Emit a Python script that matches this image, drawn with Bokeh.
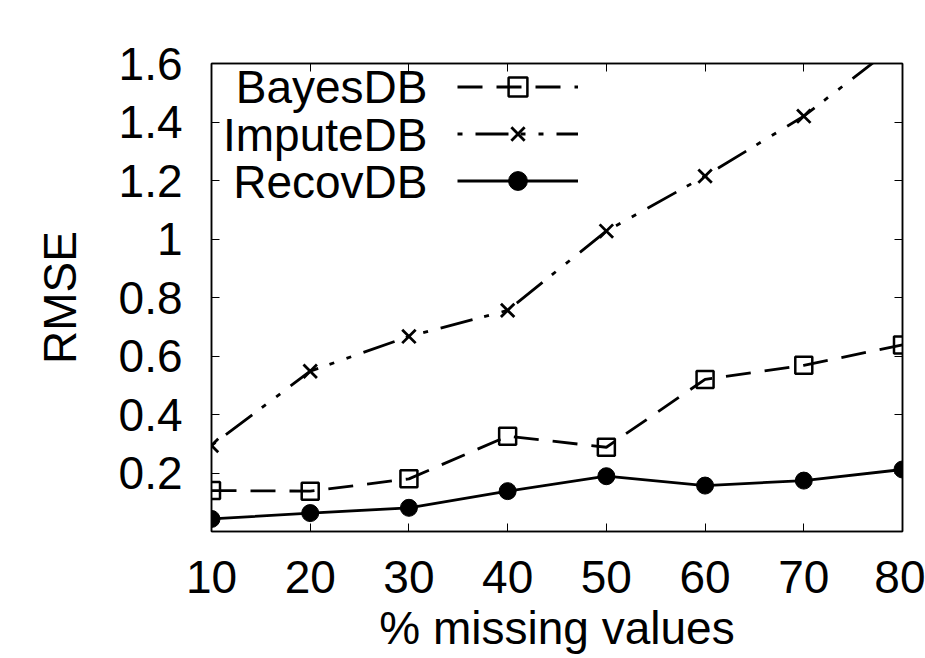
from bokeh.plotting import figure
from bokeh.models import (LinearAxis, FixedTicker, Label, Legend, LegendItem,
                          Range1d, CustomLabelingPolicy)
from bokeh.embed import file_html
from bokeh.resources import INLINE

# ---- data ----
x_vals = [10, 20, 30, 40, 50, 60, 70, 80]
bayesdb = [0.140, 0.138, 0.180, 0.326, 0.288, 0.520, 0.568, 0.638]
imputedb = [0.294, 0.548, 0.667, 0.756, 1.027, 1.215, 1.420, 1.680]
recovdb = [0.043, 0.063, 0.081, 0.138, 0.189, 0.157, 0.174, 0.212]
series_names = ["BayesDB", "ImputeDB", "RecovDB"]
x_ticks = [10, 20, 30, 40, 50, 60, 70, 80]
x_tick_labels = ["10", "20", "30", "40", "50", "60", "70", "80"]
y_ticks = [0.2, 0.4, 0.6, 0.8, 1.0, 1.2, 1.4, 1.6]
y_tick_labels = ["0.2", "0.4", "0.6", "0.8", "1", "1.2", "1.4", "1.6"]
x_title = "% missing values"
y_title = "RMSE"

FONT = "Liberation Sans"
FS = "46px"
INK = "#000000"

p = figure(width=925, height=658, output_backend="svg", toolbar_location=None,
           x_range=Range1d(10, 80), y_range=Range1d(0, 1.6),
           min_border_left=211, min_border_right=23, min_border_top=63,
           min_border_bottom=127, background_fill_color="white",
           border_fill_color="white")
p.xgrid.visible = False
p.ygrid.visible = False
p.outline_line_color = INK
p.outline_line_width = 1.5

xt = FixedTicker(ticks=x_ticks)
yt = FixedTicker(ticks=y_ticks)

for ax in p.xaxis:
    ax.ticker = xt
    ax.major_label_overrides = dict(zip(x_ticks, x_tick_labels))
    ax.major_label_standoff = 29
    ax.axis_label = x_title
    ax.axis_label_standoff = 6
for ax in p.yaxis:
    ax.ticker = yt
    ax.major_label_overrides = dict(zip(y_ticks, y_tick_labels))
    ax.major_label_standoff = 29
    ax.axis_label = y_title
    ax.axis_label_standoff = 30

for ax in list(p.xaxis) + list(p.yaxis):
    ax.axis_label_text_font = FONT
    ax.axis_label_text_font_size = FS
    ax.axis_label_text_font_style = "normal"
    ax.axis_label_text_color = INK
    ax.major_label_text_font = FONT
    ax.major_label_text_font_size = FS
    ax.major_label_text_color = INK
    ax.major_tick_in = 8
    ax.major_tick_out = 0
    ax.minor_tick_line_color = None
    ax.axis_line_color = INK
    ax.axis_line_width = 1.5
    ax.major_tick_line_color = INK
    ax.major_tick_line_width = 1

# mirrored ticks on top and right (labels suppressed)
hide_all = CustomLabelingPolicy(
    code="for (const i of Array.from(indices)) { indices.unset(i) } return indices")
for side, tk in (("above", xt), ("right", yt)):
    a = LinearAxis(ticker=tk, major_label_text_font_size="2px",
                   major_label_policy=hide_all,
                   major_label_standoff=0, major_tick_in=8, major_tick_out=0,
                   minor_tick_line_color=None, axis_line_color=INK,
                   axis_line_width=1.5, major_tick_line_color=INK,
                   major_tick_line_width=1)
    p.add_layout(a, side)

LW = 2.8
# BayesDB
l1 = p.line(x_vals, bayesdb, line_color=INK, line_width=LW, line_dash="25 14")
s1 = p.scatter(x_vals, bayesdb, marker="square", size=17, fill_color=None,
               line_color=INK, line_width=2.5)
# ImputeDB
l2 = p.line(x_vals, imputedb, line_color=INK, line_width=LW,
            line_dash="5 13 33 12 5 13")
s2 = p.scatter(x_vals, imputedb, marker="x", size=19, line_color=INK,
               line_width=2.8)
# RecovDB
l3 = p.line(x_vals, recovdb, line_color=INK, line_width=LW)
s3 = p.scatter(x_vals, recovdb, marker="circle", size=17, fill_color=INK,
               line_color=INK)

legend = Legend(items=[LegendItem(label=" ", renderers=[l1, s1]),
                       LegendItem(label=" ", renderers=[l2, s2]),
                       LegendItem(label=" ", renderers=[l3, s3])],
                location=(245.7, 326.8), orientation="vertical",
                glyph_width=121, glyph_height=47, label_height=47,
                label_width=0, label_standoff=0, spacing=0, padding=0,
                margin=0, label_text_font_size="10px",
                background_fill_alpha=0, border_line_alpha=0)
p.add_layout(legend)

row_y = [444.3, 396.8, 349.3]
for name, yy in zip(series_names, row_y):
    p.add_layout(Label(x=216, y=yy, x_units="screen", y_units="screen",
                       text=name, text_align="right", text_baseline="middle",
                       text_font=FONT, text_font_size=FS, text_color=INK))

open("out.html", "w").write(file_html(p, INLINE))
